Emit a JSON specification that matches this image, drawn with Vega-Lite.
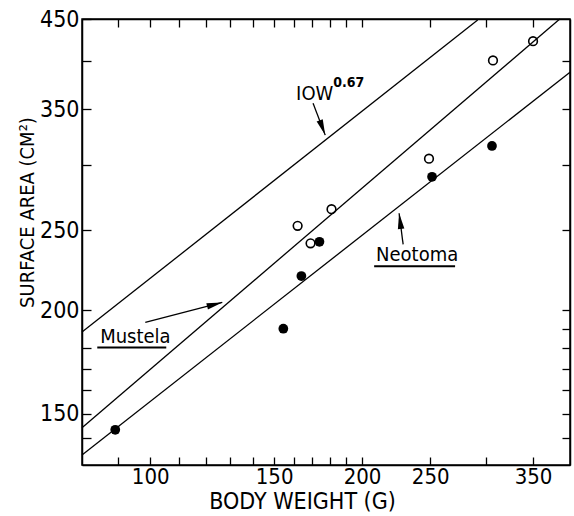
{
  "$schema": "https://vega.github.io/schema/vega-lite/v6.json",
  "autosize": "none",
  "width": 488,
  "height": 446,
  "padding": {"left": 82, "top": 19, "right": 4, "bottom": 51},
  "background": "white",
  "config": {
    "view": {"stroke": "black", "strokeWidth": 1.5},
    "font": "Liberation Sans Narrow, DejaVu Sans Condensed, sans-serif",
    "axis": {
      "domainColor": "black", "domainWidth": 1.5,
      "tickColor": "black", "tickWidth": 1.3,
      "labelColor": "black", "titleColor": "black",
      "labelFont": "Liberation Sans Narrow, DejaVu Sans Condensed, sans-serif",
      "titleFont": "Liberation Sans Narrow, DejaVu Sans Condensed, sans-serif",
      "labelFontSize": 23, "titleFontSize": 22, "titleFontWeight": "normal",
      "grid": false
    }
  },
  "datasets": {
    "lines": [
      {"line": "ref", "W": 80, "V": 188.2},
      {"line": "ref", "W": 292, "V": 448.7},
      {"line": "Mustela", "W": 80, "V": 144.2},
      {"line": "Mustela", "W": 382, "V": 450},
      {"line": "Neotoma", "W": 80, "V": 133.7},
      {"line": "Neotoma", "W": 395, "V": 388}
    ],
    "points": [
      {"genus": "Mustela", "W": 350, "V": 423},
      {"genus": "Mustela", "W": 307, "V": 401},
      {"genus": "Mustela", "W": 249, "V": 305},
      {"genus": "Mustela", "W": 181, "V": 265},
      {"genus": "Mustela", "W": 162, "V": 253},
      {"genus": "Mustela", "W": 169, "V": 241},
      {"genus": "Neotoma", "W": 174, "V": 242},
      {"genus": "Neotoma", "W": 251.5, "V": 290},
      {"genus": "Neotoma", "W": 306, "V": 316},
      {"genus": "Neotoma", "W": 164, "V": 220},
      {"genus": "Neotoma", "W": 154.6, "V": 190},
      {"genus": "Neotoma", "W": 89.2, "V": 143.4}
    ],
    "labels": [
      {"name": "ref", "text": "IOW", "W": 161.2, "V": 359},
      {"name": "Mustela", "text": "Mustela", "W": 84.9, "V": 182.8},
      {"name": "Neotoma", "text": "Neotoma", "W": 209.4, "V": 229.2}
    ],
    "sup": [
      {"text": "0.67", "W": 182, "V": 372}
    ],
    "underlines": [
      {"name": "Mustela", "W1": 84.1, "W2": 105.4, "V": 180.3},
      {"name": "Neotoma", "W1": 208.1, "W2": 271.2, "V": 226.0}
    ],
    "arrows": [
      {"name": "ref", "W": 170.4, "V": 356, "W2": 177.3, "V2": 325.7},
      {"name": "Mustela", "W": 98.4, "V": 193.4, "W2": 126.6, "V2": 204.4},
      {"name": "Neotoma", "W": 228.8, "V": 240.3, "W2": 225.8, "V2": 262}
    ]
  },
  "resolve": {"axis": {"x": "independent", "y": "independent"}},
  "layer": [
    {
      "data": {"name": "lines"},
      "mark": {"type": "line", "color": "black", "strokeWidth": 1.3},
      "encoding": {
        "x": {"field": "W", "type": "quantitative",
          "scale": {"type": "log", "domain": [80, 395], "nice": false},
          "axis": {"orient": "bottom", "title": "BODY WEIGHT (G)",
            "values": [90, 100, 110, 120, 130, 140, 150, 160, 170, 180, 190, 200, 250, 300, 350],
            "labelExpr": "indexof([100,150,200,250,350], datum.value) >= 0 ? datum.label : ''",
            "tickSize": -8, "labelPadding": 9, "labelFlush": false, "labelOverlap": false,
            "labelFontSize": 22,
            "titleFontSize": 23, "titleX": 220, "titleAlign": "center", "titleAnchor": null,
            "titlePadding": 3}},
        "y": {"field": "V", "type": "quantitative",
          "scale": {"type": "log", "domain": [130, 450], "nice": false},
          "axis": {"orient": "left", "title": "SURFACE AREA (CM²)",
            "values": [140, 150, 160, 170, 180, 200, 250, 300, 350, 400, 450],
            "labelExpr": "indexof([150,200,250,350,450], datum.value) >= 0 ? datum.label : ''",
            "tickSize": -9, "labelPadding": 12, "labelFlush": false, "labelOverlap": false,
            "labelBaseline": "middle",
            "titleFontSize": 20,
            "titleAngle": -90, "titleX": -49, "titleY": 193, "titleAlign": "center", "titleBaseline": "alphabetic"}},
        "detail": {"field": "line"}
      }
    },
    {
      "data": {"name": "points"},
      "transform": [{"filter": "datum.genus === 'Mustela'"}],
      "mark": {"type": "point", "shape": "circle", "filled": false, "stroke": "black", "strokeWidth": 1.6, "size": 75, "opacity": 1},
      "encoding": {
        "x": {"field": "W", "type": "quantitative",
          "axis": {"orient": "top", "title": null, "labels": false,
            "values": [90, 100, 110, 120, 130, 140, 150, 160, 170, 180, 190, 200, 250, 300, 350],
            "tickSize": -8}},
        "y": {"field": "V", "type": "quantitative",
          "axis": {"orient": "right", "title": null, "labels": false,
            "values": [140, 150, 160, 170, 180, 190, 200, 250, 300, 350, 400],
            "tickSize": -8}}
      }
    },
    {
      "data": {"name": "points"},
      "transform": [{"filter": "datum.genus === 'Neotoma'"}],
      "mark": {"type": "circle", "color": "black", "size": 95, "opacity": 1},
      "encoding": {
        "x": {"field": "W", "type": "quantitative", "axis": null},
        "y": {"field": "V", "type": "quantitative", "axis": null}
      }
    },
    {
      "data": {"name": "labels"},
      "mark": {"type": "text", "align": "left", "baseline": "alphabetic", "fontSize": 20, "color": "black"},
      "encoding": {
        "x": {"field": "W", "type": "quantitative", "axis": null},
        "y": {"field": "V", "type": "quantitative", "axis": null},
        "text": {"field": "text"}
      }
    },
    {
      "data": {"name": "sup"},
      "mark": {"type": "text", "align": "left", "baseline": "alphabetic", "fontSize": 14, "fontWeight": "bold", "color": "black"},
      "encoding": {
        "x": {"field": "W", "type": "quantitative", "axis": null},
        "y": {"field": "V", "type": "quantitative", "axis": null},
        "text": {"field": "text"}
      }
    },
    {
      "data": {"name": "underlines"},
      "mark": {"type": "rule", "color": "black", "strokeWidth": 2},
      "encoding": {
        "x": {"field": "W1", "type": "quantitative", "axis": null},
        "x2": {"field": "W2"},
        "y": {"field": "V", "type": "quantitative", "axis": null}
      }
    },
    {
      "data": {"name": "arrows"},
      "mark": {"type": "rule", "color": "black", "strokeWidth": 1.3},
      "encoding": {
        "x": {"field": "W", "type": "quantitative", "axis": null},
        "y": {"field": "V", "type": "quantitative", "axis": null},
        "x2": {"field": "W2"},
        "y2": {"field": "V2"}
      }
    },
    {
      "data": {"name": "arrows"},
      "transform": [{"filter": "datum.name === 'ref'"}],
      "mark": {"type": "point", "shape": "M0,0L-0.5,2.4L0.5,2.4Z", "filled": true, "color": "black", "size": 170, "angle": 159.4, "opacity": 1},
      "encoding": {
        "x": {"field": "W2", "type": "quantitative", "axis": null},
        "y": {"field": "V2", "type": "quantitative", "axis": null}
      }
    },
    {
      "data": {"name": "arrows"},
      "transform": [{"filter": "datum.name === 'Mustela'"}],
      "mark": {"type": "point", "shape": "M0,0L-0.5,2.4L0.5,2.4Z", "filled": true, "color": "black", "size": 170, "angle": 75.4, "opacity": 1},
      "encoding": {
        "x": {"field": "W2", "type": "quantitative", "axis": null},
        "y": {"field": "V2", "type": "quantitative", "axis": null}
      }
    },
    {
      "data": {"name": "arrows"},
      "transform": [{"filter": "datum.name === 'Neotoma'"}],
      "mark": {"type": "point", "shape": "M0,0L-0.5,2.4L0.5,2.4Z", "filled": true, "color": "black", "size": 170, "angle": 352.6, "opacity": 1},
      "encoding": {
        "x": {"field": "W2", "type": "quantitative", "axis": null},
        "y": {"field": "V2", "type": "quantitative", "axis": null}
      }
    }
  ]
}
